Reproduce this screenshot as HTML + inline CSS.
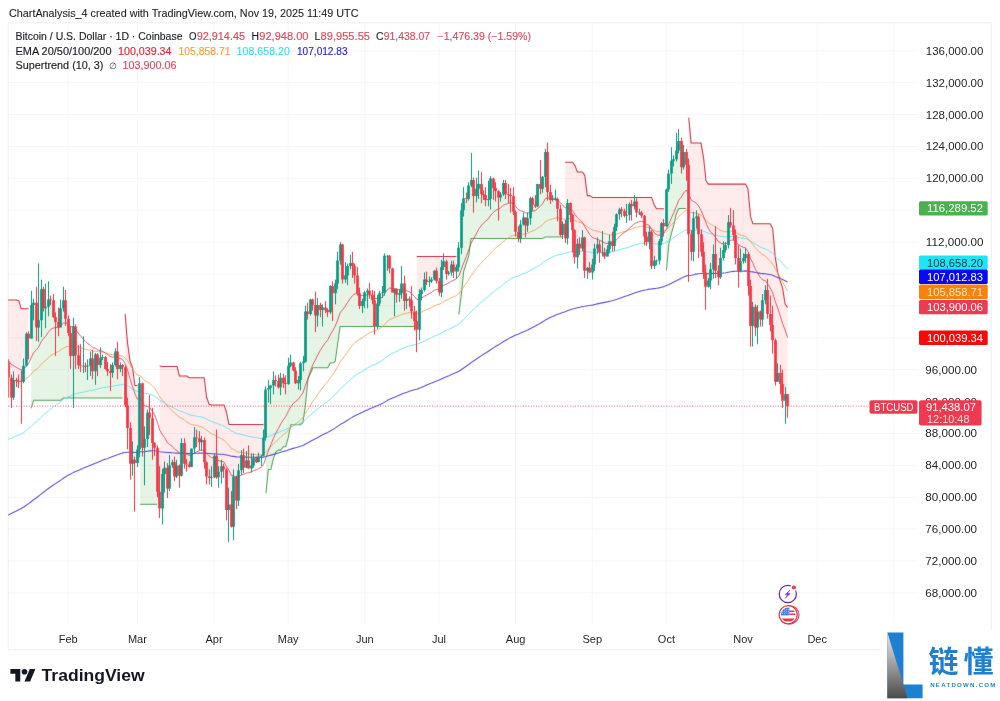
<!DOCTYPE html>
<html lang="en"><head><meta charset="utf-8"><title>BTCUSD chart</title>
<style>html,body{margin:0;padding:0;background:#fff}body{width:1000px;height:701px;overflow:hidden}svg{display:block}</style>
</head><body>
<svg width="1000" height="701" viewBox="0 0 1000 701" font-family='"Liberation Sans", Arial, sans-serif'>
<rect width="1000" height="701" fill="#fff"/>
<defs><clipPath id="pane"><rect x="8.2" y="22.8" width="910.3" height="602.2"/></clipPath>
<linearGradient id="lg" x1="0" y1="0" x2="0" y2="1"><stop offset="0" stop-color="#e4e4e4"/><stop offset="0.35" stop-color="#b5b5b5"/><stop offset="1" stop-color="#4a4a4a"/></linearGradient>
<filter id="bl" x="0" y="0" width="1" height="1" filterUnits="objectBoundingBox" color-interpolation-filters="sRGB"><feConvolveMatrix order="3" kernelMatrix="0.01 0.05 0.01 0.05 0.76 0.05 0.01 0.05 0.01" divisor="1" edgeMode="duplicate"/></filter>
</defs>
<path d="M68.2 22.8V625.0M137.4 22.8V625.0M214.0 22.8V625.0M288.2 22.8V625.0M364.8 22.8V625.0M439.0 22.8V625.0M515.6 22.8V625.0M592.3 22.8V625.0M666.4 22.8V625.0M743.1 22.8V625.0M817.2 22.8V625.0M893.8 22.8V625.0M8.2 50.8H918.5M8.2 82.7H918.5M8.2 114.6H918.5M8.2 146.5H918.5M8.2 178.4H918.5M8.2 210.2H918.5M8.2 242.1H918.5M8.2 274.0H918.5M8.2 305.9H918.5M8.2 337.8H918.5M8.2 369.7H918.5M8.2 401.6H918.5M8.2 433.5H918.5M8.2 465.4H918.5M8.2 497.3H918.5M8.2 529.1H918.5M8.2 561.0H918.5M8.2 592.9H918.5" stroke="#f6f6f8" stroke-width="1" fill="none"/>
<path d="M8.2 22.8H991.3V649.6H8.2Z" stroke="#edeef1" stroke-width="1" fill="none"/>
<g clip-path="url(#pane)"><g filter="url(#bl)"><rect x="0" y="0" width="1000" height="701" fill="none"/>
<polygon points="6.2,299.9 8.9,299.9 11.3,299.9 13.8,299.9 16.3,299.9 18.8,300.7 21.2,308.7 23.7,308.7 26.2,308.7 28.6,308.7 28.6,336.2 26.2,349.8 23.7,373.7 21.2,381.4 18.8,381.0 16.3,380.5 13.8,388.8 11.3,387.6 8.9,370.1 6.2,370.1" fill="rgba(242,54,69,0.10)"/>
<polyline points="6.2,299.9 8.9,299.9 11.3,299.9 13.8,299.9 16.3,299.9 18.8,300.7 21.2,308.7 23.7,308.7 26.2,308.7 28.6,308.7" fill="none" stroke="#cf2f42" stroke-width="1.05" stroke-linejoin="round"/>
<polygon points="31.1,408.4 33.6,400.3 36.1,400.3 38.5,400.3 41.0,400.3 43.5,400.3 46.0,400.3 48.4,400.3 50.9,400.3 53.4,400.3 55.8,400.3 58.3,400.3 60.8,400.3 63.3,397.9 65.7,397.9 68.2,397.9 70.7,397.9 73.1,397.9 75.6,397.9 78.1,397.9 80.6,397.9 83.0,397.9 85.5,397.9 88.0,397.9 90.4,397.9 92.9,397.9 95.4,397.9 97.9,397.9 100.3,397.9 102.8,397.9 105.3,397.9 107.8,397.9 110.2,397.9 112.7,397.9 115.2,397.9 117.6,397.9 120.1,397.9 122.6,397.9 122.6,366.1 120.1,366.9 117.6,360.1 115.2,358.1 112.7,368.9 110.2,372.1 107.8,370.1 105.3,362.9 102.8,357.3 100.3,361.3 97.9,359.7 95.4,362.9 92.9,364.9 90.4,362.1 88.0,366.1 85.5,366.1 83.0,365.7 80.6,365.3 78.1,360.1 75.6,341.0 73.1,341.4 70.7,344.6 68.2,325.9 65.7,309.5 63.3,304.3 60.8,317.9 58.3,324.7 55.8,319.5 53.4,308.7 50.9,299.9 48.4,303.1 46.0,307.5 43.5,298.7 41.0,304.7 38.5,323.9 36.1,315.1 33.6,303.9 31.1,321.9" fill="rgba(76,175,80,0.14)"/>
<polyline points="31.1,408.4 33.6,400.3 36.1,400.3 38.5,400.3 41.0,400.3 43.5,400.3 46.0,400.3 48.4,400.3 50.9,400.3 53.4,400.3 55.8,400.3 58.3,400.3 60.8,400.3 63.3,397.9 65.7,397.9 68.2,397.9 70.7,397.9 73.1,397.9 75.6,397.9 78.1,397.9 80.6,397.9 83.0,397.9 85.5,397.9 88.0,397.9 90.4,397.9 92.9,397.9 95.4,397.9 97.9,397.9 100.3,397.9 102.8,397.9 105.3,397.9 107.8,397.9 110.2,397.9 112.7,397.9 115.2,397.9 117.6,397.9 120.1,397.9 122.6,397.9" fill="none" stroke="#55a35a" stroke-width="1.05" stroke-linejoin="round"/>
<polygon points="125.1,314.0 127.5,342.8 130.0,361.1 132.5,367.4 134.9,385.5 137.4,385.5 137.4,456.2 134.9,461.4 132.5,461.8 130.0,445.8 127.5,416.7 125.1,386.4" fill="rgba(242,54,69,0.10)"/>
<polyline points="125.1,314.0 127.5,342.8 130.0,361.1 132.5,367.4 134.9,385.5 137.4,385.5" fill="none" stroke="#cf2f42" stroke-width="1.05" stroke-linejoin="round"/>
<polygon points="139.9,504.3 142.4,504.3 144.8,504.3 147.3,504.3 149.8,504.3 152.2,504.3 154.7,504.3 157.2,504.3 157.2,469.8 154.7,445.4 152.2,430.7 149.8,415.5 147.3,425.9 144.8,443.4 142.4,415.5 139.9,416.3" fill="rgba(76,175,80,0.14)"/>
<polyline points="139.9,504.3 142.4,504.3 144.8,504.3 147.3,504.3 149.8,504.3 152.2,504.3 154.7,504.3 157.2,504.3" fill="none" stroke="#55a35a" stroke-width="1.05" stroke-linejoin="round"/>
<polygon points="159.7,366.1 162.1,366.4 164.6,366.4 167.1,366.4 169.6,366.4 172.0,366.4 174.5,366.4 177.0,366.4 179.4,376.0 181.9,376.0 184.4,376.0 186.9,376.0 189.3,377.8 191.8,377.8 194.3,377.8 196.7,377.8 199.2,377.8 201.7,377.8 204.2,377.8 206.6,397.2 209.1,404.2 211.6,404.9 214.0,404.9 216.5,404.9 219.0,404.9 221.5,404.9 223.9,404.9 226.4,411.7 228.9,424.4 231.4,424.4 233.8,424.4 236.3,424.4 238.8,424.4 241.2,424.4 243.7,424.4 246.2,424.4 248.7,424.4 251.1,424.4 253.6,424.4 256.1,424.4 258.5,424.4 261.0,424.4 263.5,424.4 263.5,446.6 261.0,456.2 258.5,459.4 256.1,460.2 253.6,461.8 251.1,467.0 248.7,464.6 246.2,464.2 243.7,461.4 241.2,462.6 238.8,485.3 236.3,488.5 233.8,501.6 231.4,515.6 228.9,507.2 226.4,489.7 223.9,467.8 221.5,469.0 219.0,474.5 216.5,466.6 214.0,466.6 211.6,477.7 209.1,477.3 206.6,469.4 204.2,451.0 201.7,441.1 199.2,440.3 196.7,437.9 194.3,443.0 191.8,457.8 189.3,465.8 186.9,464.2 184.4,453.4 181.9,459.4 179.4,470.6 177.0,471.0 174.5,469.4 172.0,463.8 169.6,476.9 167.1,478.1 164.6,471.0 162.1,491.3 159.7,500.1" fill="rgba(242,54,69,0.10)"/>
<polyline points="159.7,366.1 162.1,366.4 164.6,366.4 167.1,366.4 169.6,366.4 172.0,366.4 174.5,366.4 177.0,366.4 179.4,376.0 181.9,376.0 184.4,376.0 186.9,376.0 189.3,377.8 191.8,377.8 194.3,377.8 196.7,377.8 199.2,377.8 201.7,377.8 204.2,377.8 206.6,397.2 209.1,404.2 211.6,404.9 214.0,404.9 216.5,404.9 219.0,404.9 221.5,404.9 223.9,404.9 226.4,411.7 228.9,424.4 231.4,424.4 233.8,424.4 236.3,424.4 238.8,424.4 241.2,424.4 243.7,424.4 246.2,424.4 248.7,424.4 251.1,424.4 253.6,424.4 256.1,424.4 258.5,424.4 261.0,424.4 263.5,424.4" fill="none" stroke="#cf2f42" stroke-width="1.05" stroke-linejoin="round"/>
<polygon points="266.0,493.1 268.4,469.5 270.9,469.5 273.4,458.4 275.8,452.2 278.3,450.1 280.8,450.1 283.3,446.7 285.7,446.7 288.2,437.9 290.7,424.7 293.2,424.7 295.6,424.7 298.1,424.7 300.6,424.7 303.0,422.5 305.5,404.1 308.0,379.0 310.5,373.3 312.9,367.8 315.4,367.8 317.9,367.8 320.3,367.8 322.8,367.8 325.3,367.8 327.8,367.8 330.2,362.9 332.7,362.9 335.2,361.5 337.6,344.2 340.1,326.4 342.6,326.4 345.1,326.4 347.5,326.4 350.0,326.4 352.5,326.4 355.0,326.4 357.4,326.4 359.9,326.4 362.4,326.4 364.8,326.4 367.3,326.4 369.8,326.4 372.3,326.4 374.7,326.4 377.2,326.4 379.7,326.4 382.1,326.4 384.6,326.4 387.1,326.4 389.6,326.4 392.0,326.4 394.5,326.4 397.0,326.4 399.4,326.4 401.9,326.4 404.4,326.4 406.9,326.4 409.3,326.4 411.8,326.4 414.3,326.4 414.3,316.3 411.8,305.9 409.3,299.5 406.9,299.9 404.4,292.4 401.9,288.4 399.4,294.0 397.0,292.0 394.5,290.8 392.0,280.4 389.6,262.1 387.1,255.7 384.6,274.0 382.1,292.8 379.7,298.3 377.2,314.7 374.7,313.1 372.3,297.5 369.8,292.8 367.3,291.6 364.8,296.8 362.4,303.5 359.9,299.5 357.4,284.4 355.0,270.8 352.5,264.5 350.0,264.5 347.5,270.8 345.1,277.6 342.6,262.1 340.1,252.5 337.6,272.0 335.2,288.4 332.7,289.6 330.2,299.1 327.8,311.1 325.3,308.7 322.8,308.7 320.3,307.5 317.9,310.3 315.4,310.3 312.9,302.3 310.5,306.7 308.0,312.7 305.5,336.6 303.0,362.5 300.6,371.7 298.1,381.7 295.6,376.9 293.2,366.5 290.7,364.1 288.2,374.9 285.7,383.7 283.3,380.5 280.8,382.5 278.3,384.1 275.8,380.5 273.4,382.9 270.9,386.8 268.4,388.8 266.0,413.5" fill="rgba(76,175,80,0.14)"/>
<polyline points="266.0,493.1 268.4,469.5 270.9,469.5 273.4,458.4 275.8,452.2 278.3,450.1 280.8,450.1 283.3,446.7 285.7,446.7 288.2,437.9 290.7,424.7 293.2,424.7 295.6,424.7 298.1,424.7 300.6,424.7 303.0,422.5 305.5,404.1 308.0,379.0 310.5,373.3 312.9,367.8 315.4,367.8 317.9,367.8 320.3,367.8 322.8,367.8 325.3,367.8 327.8,367.8 330.2,362.9 332.7,362.9 335.2,361.5 337.6,344.2 340.1,326.4 342.6,326.4 345.1,326.4 347.5,326.4 350.0,326.4 352.5,326.4 355.0,326.4 357.4,326.4 359.9,326.4 362.4,326.4 364.8,326.4 367.3,326.4 369.8,326.4 372.3,326.4 374.7,326.4 377.2,326.4 379.7,326.4 382.1,326.4 384.6,326.4 387.1,326.4 389.6,326.4 392.0,326.4 394.5,326.4 397.0,326.4 399.4,326.4 401.9,326.4 404.4,326.4 406.9,326.4 409.3,326.4 411.8,326.4 414.3,326.4" fill="none" stroke="#55a35a" stroke-width="1.05" stroke-linejoin="round"/>
<polygon points="416.8,256.5 419.2,256.5 421.7,256.5 424.2,256.5 426.6,256.5 429.1,256.5 431.6,256.5 434.1,256.5 436.5,256.5 439.0,256.5 441.5,256.5 443.9,256.5 446.4,256.5 448.9,256.5 451.4,256.5 453.8,256.5 456.3,256.5 456.3,269.2 453.8,268.1 451.4,268.4 448.9,273.2 446.4,267.7 443.9,264.1 441.5,279.6 439.0,286.8 436.5,276.0 434.1,275.2 431.6,280.4 429.1,281.6 426.6,280.8 424.2,284.8 421.7,292.0 419.2,311.9 416.8,325.5" fill="rgba(242,54,69,0.10)"/>
<polyline points="416.8,256.5 419.2,256.5 421.7,256.5 424.2,256.5 426.6,256.5 429.1,256.5 431.6,256.5 434.1,256.5 436.5,256.5 439.0,256.5 441.5,256.5 443.9,256.5 446.4,256.5 448.9,256.5 451.4,256.5 453.8,256.5 456.3,256.5" fill="none" stroke="#cf2f42" stroke-width="1.05" stroke-linejoin="round"/>
<polygon points="458.8,314.8 461.2,296.0 463.7,271.4 466.2,263.6 468.7,256.1 471.1,238.4 473.6,238.4 476.1,238.4 478.6,238.4 481.0,238.4 483.5,238.4 486.0,238.4 488.4,238.4 490.9,238.4 493.4,238.4 495.9,238.4 498.3,238.4 500.8,238.4 503.3,238.4 505.7,238.4 508.2,238.4 510.7,238.4 513.2,238.4 515.6,238.4 518.1,238.4 520.6,238.4 523.0,238.4 525.5,238.4 528.0,238.4 530.5,238.4 532.9,238.4 535.4,238.4 537.9,238.4 540.4,238.4 542.8,238.4 545.3,237.0 547.8,237.0 550.2,237.0 552.7,237.0 555.2,237.0 557.7,237.0 560.1,237.0 562.6,237.0 562.6,229.4 560.1,221.8 557.7,203.9 555.2,199.1 552.7,199.5 550.2,195.9 547.8,172.0 545.3,164.4 542.8,182.7 540.4,186.3 537.9,195.1 535.4,205.5 532.9,201.5 530.5,208.3 528.0,221.8 525.5,221.4 523.0,221.0 520.6,231.4 518.1,235.0 515.6,221.8 513.2,203.9 510.7,195.5 508.2,194.7 505.7,188.7 503.3,188.7 500.8,195.9 498.3,194.3 495.9,189.5 493.4,183.1 490.9,188.7 488.4,199.5 486.0,197.5 483.5,194.7 481.0,189.1 478.6,186.3 476.1,192.3 473.6,187.9 471.1,182.7 468.7,192.3 466.2,198.7 463.7,204.3 461.2,229.0 458.8,257.3" fill="rgba(76,175,80,0.14)"/>
<polyline points="458.8,314.8 461.2,296.0 463.7,271.4 466.2,263.6 468.7,256.1 471.1,238.4 473.6,238.4 476.1,238.4 478.6,238.4 481.0,238.4 483.5,238.4 486.0,238.4 488.4,238.4 490.9,238.4 493.4,238.4 495.9,238.4 498.3,238.4 500.8,238.4 503.3,238.4 505.7,238.4 508.2,238.4 510.7,238.4 513.2,238.4 515.6,238.4 518.1,238.4 520.6,238.4 523.0,238.4 525.5,238.4 528.0,238.4 530.5,238.4 532.9,238.4 535.4,238.4 537.9,238.4 540.4,238.4 542.8,238.4 545.3,237.0 547.8,237.0 550.2,237.0 552.7,237.0 555.2,237.0 557.7,237.0 560.1,237.0 562.6,237.0" fill="none" stroke="#55a35a" stroke-width="1.05" stroke-linejoin="round"/>
<polygon points="565.1,162.3 567.5,162.3 570.0,162.3 572.5,162.3 575.0,165.6 577.4,172.0 579.9,172.0 582.4,172.0 584.8,175.4 587.3,195.6 589.8,195.6 592.3,197.4 594.7,197.4 597.2,197.4 599.7,197.4 602.2,197.4 604.6,197.4 607.1,197.4 609.6,197.4 612.0,197.4 614.5,197.4 617.0,197.4 619.5,197.4 621.9,197.4 624.4,197.4 626.9,197.4 629.3,197.4 631.8,197.4 634.3,197.4 636.8,197.4 639.2,197.4 641.7,197.4 644.2,197.4 646.6,197.4 649.1,197.4 651.6,197.4 654.1,204.7 656.5,208.8 659.0,208.8 661.5,208.8 664.0,208.8 664.0,224.6 661.5,232.2 659.0,250.9 656.5,260.5 654.1,263.3 651.6,248.9 649.1,237.0 646.6,239.3 644.2,226.2 641.7,214.2 639.2,212.6 636.8,207.1 634.3,203.9 631.8,205.1 629.3,209.5 626.9,215.4 624.4,213.4 621.9,210.2 619.5,211.8 617.0,220.6 614.5,236.6 612.0,243.7 609.6,245.3 607.1,252.9 604.6,254.5 602.2,252.5 599.7,248.5 597.2,246.5 594.7,256.5 592.3,268.4 589.8,270.0 587.3,269.2 584.8,254.1 582.4,242.9 579.9,246.1 577.4,250.5 575.0,243.7 572.5,222.6 570.0,209.1 567.5,220.6 565.1,231.0" fill="rgba(242,54,69,0.10)"/>
<polyline points="565.1,162.3 567.5,162.3 570.0,162.3 572.5,162.3 575.0,165.6 577.4,172.0 579.9,172.0 582.4,172.0 584.8,175.4 587.3,195.6 589.8,195.6 592.3,197.4 594.7,197.4 597.2,197.4 599.7,197.4 602.2,197.4 604.6,197.4 607.1,197.4 609.6,197.4 612.0,197.4 614.5,197.4 617.0,197.4 619.5,197.4 621.9,197.4 624.4,197.4 626.9,197.4 629.3,197.4 631.8,197.4 634.3,197.4 636.8,197.4 639.2,197.4 641.7,197.4 644.2,197.4 646.6,197.4 649.1,197.4 651.6,197.4 654.1,204.7 656.5,208.8 659.0,208.8 661.5,208.8 664.0,208.8" fill="none" stroke="#cf2f42" stroke-width="1.05" stroke-linejoin="round"/>
<polygon points="666.4,270.5 668.9,243.8 671.4,233.3 673.8,225.1 676.3,213.8 678.8,208.5 681.3,208.5 683.7,208.5 686.2,208.5 686.2,158.4 683.7,159.6 681.3,154.0 678.8,145.7 676.3,154.8 673.8,160.0 671.4,167.2 668.9,181.5 666.4,207.9" fill="rgba(76,175,80,0.14)"/>
<polyline points="666.4,270.5 668.9,243.8 671.4,233.3 673.8,225.1 676.3,213.8 678.8,208.5 681.3,208.5 683.7,208.5 686.2,208.5" fill="none" stroke="#55a35a" stroke-width="1.05" stroke-linejoin="round"/>
<polygon points="688.7,117.7 691.1,142.9 693.6,142.9 696.1,142.9 698.6,142.9 701.0,142.9 703.5,157.3 706.0,180.7 708.4,184.1 710.9,184.1 713.4,184.1 715.9,184.1 718.3,184.1 720.8,184.1 723.3,184.1 725.8,184.1 728.2,184.1 730.7,184.1 733.2,184.1 735.6,184.1 738.1,184.1 740.6,184.1 743.1,184.1 745.5,184.1 748.0,188.9 750.5,216.4 752.9,223.8 755.4,223.8 757.9,223.8 760.4,223.8 762.8,223.8 765.3,223.8 767.8,223.8 770.2,223.8 772.7,228.6 775.2,256.9 777.7,272.3 780.1,280.7 782.6,288.2 785.1,304.0 787.6,307.4 787.6,400.2 785.1,397.5 782.6,392.4 780.1,378.5 777.7,377.3 775.2,360.9 772.7,332.6 770.2,319.5 767.8,301.9 765.3,295.2 762.8,309.9 760.4,315.5 757.9,319.5 755.4,317.1 752.9,316.3 750.5,305.9 748.0,270.0 745.5,256.1 743.1,259.7 740.6,266.5 738.1,264.9 735.6,246.5 733.2,230.2 730.7,223.8 728.2,233.8 725.8,247.7 723.3,254.1 720.8,267.7 718.3,274.0 715.9,262.5 713.4,261.7 710.9,274.8 708.4,283.6 706.0,279.6 703.5,262.1 701.0,242.9 698.6,225.4 696.1,217.4 693.6,235.0 691.1,242.9 688.7,199.5" fill="rgba(242,54,69,0.10)"/>
<polyline points="688.7,117.7 691.1,142.9 693.6,142.9 696.1,142.9 698.6,142.9 701.0,142.9 703.5,157.3 706.0,180.7 708.4,184.1 710.9,184.1 713.4,184.1 715.9,184.1 718.3,184.1 720.8,184.1 723.3,184.1 725.8,184.1 728.2,184.1 730.7,184.1 733.2,184.1 735.6,184.1 738.1,184.1 740.6,184.1 743.1,184.1 745.5,184.1 748.0,188.9 750.5,216.4 752.9,223.8 755.4,223.8 757.9,223.8 760.4,223.8 762.8,223.8 765.3,223.8 767.8,223.8 770.2,223.8 772.7,228.6 775.2,256.9 777.7,272.3 780.1,280.7 782.6,288.2 785.1,304.0 787.6,307.4" fill="none" stroke="#cf2f42" stroke-width="1.05" stroke-linejoin="round"/>
<polyline points="6.2,516.0 8.9,514.8 11.3,513.6 13.8,512.3 16.3,511.0 18.8,509.7 21.2,508.4 23.7,507.0 26.2,505.3 28.6,503.6 31.1,501.7 33.6,499.7 36.1,498.0 38.5,496.2 41.0,494.1 43.5,492.3 46.0,490.4 48.4,488.5 50.9,486.7 53.4,485.0 55.8,483.4 58.3,481.8 60.8,480.1 63.3,478.3 65.7,476.7 68.2,475.3 70.7,474.1 73.1,472.6 75.6,471.5 78.1,470.4 80.6,469.4 83.0,468.3 85.5,467.3 88.0,466.3 90.4,465.2 92.9,464.3 95.4,463.2 97.9,462.2 100.3,461.2 102.8,460.1 105.3,459.2 107.8,458.4 110.2,457.5 112.7,456.6 115.2,455.5 117.6,454.7 120.1,453.8 122.6,452.9 125.1,452.5 127.5,452.2 130.0,452.3 132.5,452.4 134.9,452.5 137.4,452.5 139.9,451.8 142.4,451.7 144.8,451.6 147.3,451.2 149.8,450.9 152.2,450.8 154.7,450.8 157.2,451.2 159.7,451.8 162.1,452.0 164.6,452.2 167.1,452.5 169.6,452.6 172.0,452.7 174.5,453.0 177.0,453.1 179.4,453.3 181.9,453.2 184.4,453.3 186.9,453.4 189.3,453.6 191.8,453.5 194.3,453.4 196.7,453.2 199.2,453.1 201.7,453.0 204.2,453.1 206.6,453.3 209.1,453.5 211.6,453.8 214.0,453.8 216.5,454.0 219.0,454.2 221.5,454.3 223.9,454.5 226.4,455.0 228.9,455.5 231.4,456.2 233.8,456.4 236.3,456.9 238.8,457.0 241.2,457.0 243.7,457.1 246.2,457.1 248.7,457.2 251.1,457.3 253.6,457.3 256.1,457.4 258.5,457.4 261.0,457.4 263.5,457.2 266.0,456.5 268.4,455.8 270.9,455.1 273.4,454.4 275.8,453.6 278.3,453.0 280.8,452.2 283.3,451.5 285.7,450.9 288.2,450.0 290.7,449.1 293.2,448.4 295.6,447.7 298.1,447.0 300.6,446.2 303.0,445.4 305.5,444.0 308.0,442.7 310.5,441.3 312.9,440.0 315.4,438.7 317.9,437.4 320.3,436.1 322.8,434.8 325.3,433.6 327.8,432.4 330.2,430.9 332.7,429.6 335.2,428.1 337.6,426.4 340.1,424.6 342.6,423.2 345.1,421.7 347.5,420.2 350.0,418.6 352.5,417.1 355.0,415.7 357.4,414.5 359.9,413.4 362.4,412.3 364.8,411.1 367.3,409.9 369.8,408.7 372.3,407.7 374.7,406.8 377.2,405.8 379.7,404.7 382.1,403.6 384.6,402.1 387.1,400.6 389.6,399.3 392.0,398.3 394.5,397.2 397.0,396.2 399.4,395.1 401.9,394.0 404.4,393.1 406.9,392.2 409.3,391.2 411.8,390.5 414.3,389.8 416.8,389.2 419.2,388.2 421.7,387.2 424.2,386.2 426.6,385.1 429.1,384.1 431.6,383.1 434.1,381.9 436.5,380.9 439.0,380.1 441.5,378.9 443.9,377.8 446.4,376.7 448.9,375.7 451.4,374.6 453.8,373.6 456.3,372.5 458.8,371.3 461.2,369.7 463.7,368.0 466.2,366.3 468.7,364.5 471.1,362.6 473.6,361.0 476.1,359.3 478.6,357.5 481.0,355.9 483.5,354.3 486.0,352.8 488.4,351.2 490.9,349.5 493.4,347.9 495.9,346.3 498.3,344.9 500.8,343.4 503.3,341.8 505.7,340.3 508.2,338.9 510.7,337.4 513.2,336.2 515.6,335.1 518.1,334.2 520.6,333.1 523.0,331.9 525.5,330.9 528.0,329.8 530.5,328.5 532.9,327.2 535.4,326.0 537.9,324.6 540.4,323.3 542.8,321.8 545.3,320.1 547.8,318.8 550.2,317.6 552.7,316.5 555.2,315.3 557.7,314.2 560.1,313.4 562.6,312.6 565.1,311.8 567.5,310.7 570.0,309.8 572.5,309.0 575.0,308.5 577.4,307.8 579.9,307.2 582.4,306.5 584.8,306.2 587.3,305.8 589.8,305.5 592.3,305.1 594.7,304.5 597.2,303.9 599.7,303.4 602.2,302.9 604.6,302.4 607.1,301.9 609.6,301.3 612.0,300.7 614.5,300.0 617.0,299.2 619.5,298.3 621.9,297.4 624.4,296.6 626.9,295.8 629.3,294.9 631.8,294.0 634.3,293.1 636.8,292.3 639.2,291.5 641.7,290.7 644.2,290.2 646.6,289.7 649.1,289.1 651.6,288.9 654.1,288.6 656.5,288.3 659.0,287.9 661.5,287.2 664.0,286.6 666.4,285.6 668.9,284.5 671.4,283.3 673.8,282.1 676.3,280.8 678.8,279.4 681.3,278.2 683.7,277.0 686.2,275.9 688.7,275.5 691.1,275.2 693.6,274.7 696.1,274.1 698.6,273.7 701.0,273.5 703.5,273.5 706.0,273.6 708.4,273.7 710.9,273.6 713.4,273.4 715.9,273.4 718.3,273.4 720.8,273.3 723.3,273.0 725.8,272.8 728.2,272.3 730.7,271.8 733.2,271.4 735.6,271.3 738.1,271.3 740.6,271.2 743.1,271.1 745.5,270.9 748.0,271.1 750.5,271.6 752.9,271.9 755.4,272.5 757.9,272.9 760.4,273.4 762.8,273.6 765.3,273.8 767.8,274.2 770.2,274.7 772.7,275.3 775.2,276.4 777.7,277.4 780.1,278.4 782.6,279.6 785.1,280.8 787.6,282.0" fill="none" stroke="#3b34d6" stroke-width="1.1" stroke-linejoin="round" opacity="0.85"/>
<polyline points="6.2,439.9 8.9,439.1 11.3,438.2 13.8,437.1 16.3,436.0 18.8,434.9 21.2,433.8 23.7,432.5 26.2,430.5 28.6,428.7 31.1,426.3 33.6,423.8 36.1,421.9 38.5,419.9 41.0,417.3 43.5,415.2 46.0,413.0 48.4,410.8 50.9,408.6 53.4,406.8 55.8,405.1 58.3,403.5 60.8,401.7 63.3,399.6 65.7,398.0 68.2,396.8 70.7,396.0 73.1,394.6 75.6,393.8 78.1,393.2 80.6,392.7 83.0,392.2 85.5,391.6 88.0,391.1 90.4,390.5 92.9,390.1 95.4,389.4 97.9,388.9 100.3,388.3 102.8,387.7 105.3,387.3 107.8,387.0 110.2,386.7 112.7,386.3 115.2,385.6 117.6,385.3 120.1,384.9 122.6,384.5 125.1,384.9 127.5,385.8 130.0,387.3 132.5,388.8 134.9,390.2 137.4,391.4 139.9,391.2 142.4,392.4 144.8,393.3 147.3,393.7 149.8,394.2 152.2,395.1 154.7,396.2 157.2,398.1 159.7,400.2 162.1,401.7 164.6,403.0 167.1,404.7 169.6,405.9 172.0,407.0 174.5,408.4 177.0,409.5 179.4,410.8 181.9,411.5 184.4,412.5 186.9,413.5 189.3,414.6 191.8,415.3 194.3,415.7 196.7,416.2 199.2,416.7 201.7,417.1 204.2,418.0 206.6,419.2 209.1,420.4 211.6,421.5 214.0,422.2 216.5,423.3 219.0,424.2 221.5,425.0 223.9,425.9 226.4,427.6 228.9,429.1 231.4,431.0 233.8,431.9 236.3,433.3 238.8,434.0 241.2,434.4 243.7,435.1 246.2,435.6 248.7,436.3 251.1,436.8 253.6,437.3 256.1,437.8 258.5,438.1 261.0,438.5 263.5,438.5 266.0,437.5 268.4,436.5 270.9,435.5 273.4,434.4 275.8,433.3 278.3,432.4 280.8,431.3 283.3,430.4 285.7,429.5 288.2,428.2 290.7,426.9 293.2,425.8 295.6,425.0 298.1,424.1 300.6,422.9 303.0,421.7 305.5,419.5 308.0,417.4 310.5,415.0 312.9,412.9 315.4,410.9 317.9,408.8 320.3,406.9 322.8,404.9 325.3,403.0 327.8,401.2 330.2,399.0 332.7,396.9 335.2,394.6 337.6,392.0 340.1,389.0 342.6,386.9 345.1,384.7 347.5,382.3 350.0,380.0 352.5,377.7 355.0,375.7 357.4,374.1 359.9,372.7 362.4,371.3 364.8,369.7 367.3,368.2 369.8,366.7 372.3,365.4 374.7,364.6 377.2,363.4 379.7,362.0 382.1,360.6 384.6,358.6 387.1,356.5 389.6,354.8 392.0,353.5 394.5,352.3 397.0,351.1 399.4,350.0 401.9,348.7 404.4,347.7 406.9,346.7 409.3,345.8 411.8,345.1 414.3,344.7 416.8,344.4 419.2,343.4 421.7,342.3 424.2,341.1 426.6,339.9 429.1,338.7 431.6,337.6 434.1,336.3 436.5,335.2 439.0,334.3 441.5,333.0 443.9,331.6 446.4,330.4 448.9,329.3 451.4,328.0 453.8,326.9 456.3,325.7 458.8,324.1 461.2,321.9 463.7,319.4 466.2,317.1 468.7,314.5 471.1,311.8 473.6,309.5 476.1,307.1 478.6,304.7 481.0,302.5 483.5,300.4 486.0,298.4 488.4,296.4 490.9,294.1 493.4,292.0 495.9,290.0 498.3,288.1 500.8,286.3 503.3,284.2 505.7,282.4 508.2,280.7 510.7,279.0 513.2,277.7 515.6,276.8 518.1,276.0 520.6,275.0 523.0,273.9 525.5,272.9 528.0,271.8 530.5,270.4 532.9,269.1 535.4,267.8 537.9,266.2 540.4,264.6 542.8,262.9 545.3,260.7 547.8,259.3 550.2,258.2 552.7,257.0 555.2,255.8 557.7,254.9 560.1,254.5 562.6,253.9 565.1,253.6 567.5,252.6 570.0,251.9 572.5,251.4 575.0,251.5 577.4,251.4 579.9,251.3 582.4,251.1 584.8,251.4 587.3,251.8 589.8,252.2 592.3,252.4 594.7,252.3 597.2,252.2 599.7,252.2 602.2,252.2 604.6,252.3 607.1,252.2 609.6,252.0 612.0,251.9 614.5,251.4 617.0,250.7 619.5,249.8 621.9,249.1 624.4,248.4 626.9,247.8 629.3,246.9 631.8,246.1 634.3,245.2 636.8,244.6 639.2,243.9 641.7,243.4 644.2,243.2 646.6,243.2 649.1,243.0 651.6,243.4 654.1,243.8 656.5,244.1 659.0,244.1 661.5,243.6 664.0,243.3 666.4,242.2 668.9,240.9 671.4,239.3 673.8,237.7 676.3,236.0 678.8,234.1 681.3,232.8 683.7,231.2 686.2,229.9 688.7,229.9 691.1,230.4 693.6,230.1 696.1,229.9 698.6,229.9 701.0,230.4 703.5,231.2 706.0,232.3 708.4,233.3 710.9,234.0 713.4,234.4 715.9,235.1 718.3,235.9 720.8,236.4 723.3,236.6 725.8,236.8 728.2,236.5 730.7,236.3 733.2,236.3 735.6,236.7 738.1,237.4 740.6,237.9 743.1,238.3 745.5,238.6 748.0,239.5 750.5,241.2 752.9,242.5 755.4,244.2 757.9,245.5 760.4,247.0 762.8,248.1 765.3,248.9 767.8,250.2 770.2,251.7 772.7,253.4 775.2,256.0 777.7,258.3 780.1,260.8 782.6,263.5 785.1,266.1 787.6,268.9" fill="none" stroke="#5fe1ee" stroke-width="1.0" stroke-linejoin="round" opacity="0.85"/>
<polyline points="6.2,379.4 8.9,380.1 11.3,380.8 13.8,380.7 16.3,380.7 18.8,380.7 21.2,380.8 23.7,380.2 26.2,378.4 28.6,376.8 31.1,374.0 33.6,371.2 36.1,369.5 38.5,367.6 41.0,364.5 43.5,362.3 46.0,360.1 48.4,357.7 50.9,355.5 53.4,354.0 55.8,352.7 58.3,351.7 60.8,350.0 63.3,348.1 65.7,346.9 68.2,346.4 70.7,346.8 73.1,346.0 75.6,346.3 78.1,347.1 80.6,347.8 83.0,348.5 85.5,349.2 88.0,349.9 90.4,350.2 92.9,351.0 95.4,351.2 97.9,351.7 100.3,351.9 102.8,352.1 105.3,352.8 107.8,353.5 110.2,354.3 112.7,354.7 115.2,354.6 117.6,355.1 120.1,355.5 122.6,356.0 125.1,357.9 127.5,360.7 130.0,364.7 132.5,368.4 134.9,372.1 137.4,375.2 139.9,375.5 142.4,378.3 144.8,380.7 147.3,382.0 149.8,383.4 152.2,385.7 154.7,388.2 157.2,392.2 159.7,396.8 162.1,399.8 164.6,402.5 167.1,405.9 169.6,408.2 172.0,410.3 174.5,412.9 177.0,415.0 179.4,417.3 181.9,418.4 184.4,420.1 186.9,421.9 189.3,423.6 191.8,424.6 194.3,425.1 196.7,425.6 199.2,426.3 201.7,426.8 204.2,428.2 206.6,430.1 209.1,432.0 211.6,433.8 214.0,434.6 216.5,436.3 219.0,437.7 221.5,438.8 223.9,440.0 226.4,442.8 228.9,445.2 231.4,448.4 233.8,449.5 236.3,451.5 238.8,452.2 241.2,452.3 243.7,452.9 246.2,453.2 248.7,453.8 251.1,454.3 253.6,454.4 256.1,454.7 258.5,454.8 261.0,454.8 263.5,454.2 266.0,451.6 268.4,449.1 270.9,446.7 273.4,444.0 275.8,441.6 278.3,439.4 280.8,437.0 283.3,434.9 285.7,432.9 288.2,430.3 290.7,427.6 293.2,425.4 295.6,423.7 298.1,422.0 300.6,419.7 303.0,417.4 305.5,413.3 308.0,409.4 310.5,405.1 312.9,401.2 315.4,397.8 317.9,394.2 320.3,390.9 322.8,387.6 325.3,384.5 327.8,381.7 330.2,378.0 332.7,374.6 335.2,371.1 337.6,366.7 340.1,361.9 342.6,358.7 345.1,355.4 347.5,351.9 350.0,348.4 352.5,345.2 355.0,342.5 357.4,340.6 359.9,339.2 362.4,337.7 364.8,335.9 367.3,334.2 369.8,332.6 372.3,331.3 374.7,331.1 377.2,330.0 379.7,328.6 382.1,327.2 384.6,324.4 387.1,321.7 389.6,319.6 392.0,318.5 394.5,317.4 397.0,316.5 399.4,315.6 401.9,314.3 404.4,313.8 406.9,313.2 409.3,312.7 411.8,312.7 414.3,313.0 416.8,313.7 419.2,312.9 421.7,312.0 424.2,310.7 426.6,309.6 429.1,308.5 431.6,307.3 434.1,305.9 436.5,304.9 439.0,304.4 441.5,303.0 443.9,301.3 446.4,300.3 448.9,299.2 451.4,297.8 453.8,296.8 456.3,295.6 458.8,293.7 461.2,290.5 463.7,286.8 466.2,283.4 468.7,279.6 471.1,275.7 473.6,272.5 476.1,269.2 478.6,265.9 481.0,263.1 483.5,260.4 486.0,258.1 488.4,255.7 490.9,252.7 493.4,250.2 495.9,247.9 498.3,245.9 500.8,243.9 503.3,241.5 505.7,239.6 508.2,237.9 510.7,236.2 513.2,235.3 515.6,235.1 518.1,235.3 520.6,234.8 523.0,234.2 525.5,233.8 528.0,233.2 530.5,231.8 532.9,230.8 535.4,229.8 537.9,228.0 540.4,226.5 542.8,224.5 545.3,221.7 547.8,220.5 550.2,219.7 552.7,218.9 555.2,218.1 557.7,217.7 560.1,218.4 562.6,218.6 565.1,219.4 567.5,218.8 570.0,218.6 572.5,219.1 575.0,220.6 577.4,221.5 579.9,222.5 582.4,223.1 584.8,225.0 587.3,226.7 589.8,228.5 592.3,229.9 594.7,230.6 597.2,231.1 599.7,232.0 602.2,232.8 604.6,233.7 607.1,234.3 609.6,234.6 612.0,235.1 614.5,234.7 617.0,233.9 619.5,233.0 621.9,232.1 624.4,231.5 626.9,230.8 629.3,229.8 631.8,228.9 634.3,227.8 636.8,227.2 639.2,226.6 641.7,226.2 644.2,226.6 646.6,227.2 649.1,227.4 651.6,228.9 654.1,230.1 656.5,231.3 659.0,231.7 661.5,231.4 664.0,231.2 666.4,229.5 668.9,227.3 671.4,224.7 673.8,222.2 676.3,219.4 678.8,216.3 681.3,214.4 683.7,211.9 686.2,210.1 688.7,211.0 691.1,212.6 693.6,212.8 696.1,213.0 698.6,213.8 701.0,215.3 703.5,217.5 706.0,220.3 708.4,222.6 710.9,224.4 713.4,225.6 715.9,227.4 718.3,229.3 720.8,230.5 723.3,231.2 725.8,231.8 728.2,231.4 730.7,231.2 733.2,231.3 735.6,232.4 738.1,233.9 740.6,235.0 743.1,235.9 745.5,236.6 748.0,238.5 750.5,242.0 752.9,244.5 755.4,247.8 757.9,250.3 760.4,253.0 762.8,254.8 765.3,256.2 767.8,258.5 770.2,261.1 772.7,264.2 775.2,268.8 777.7,272.9 780.1,277.2 782.6,282.1 785.1,286.5 787.6,291.2" fill="none" stroke="#f09440" stroke-width="0.9" stroke-linejoin="round" opacity="0.85"/>
<polyline points="6.2,357.4 8.9,360.9 11.3,364.4 13.8,365.9 16.3,367.3 18.8,368.7 21.2,369.9 23.7,369.5 26.2,366.1 28.6,363.5 31.1,357.9 33.6,352.7 36.1,350.3 38.5,347.4 41.0,341.9 43.5,338.7 46.0,335.6 48.4,332.2 50.9,329.2 53.4,328.0 55.8,327.4 58.3,327.4 60.8,325.6 63.3,323.2 65.7,322.8 68.2,323.7 70.7,326.8 73.1,326.8 75.6,329.5 78.1,332.9 80.6,336.0 83.0,338.9 85.5,341.5 88.0,343.8 90.4,345.2 92.9,347.7 95.4,348.3 97.9,349.9 100.3,350.7 102.8,351.3 105.3,352.9 107.8,354.7 110.2,356.4 112.7,357.2 115.2,356.7 117.6,357.8 120.1,358.5 122.6,359.3 125.1,363.8 127.5,369.9 130.0,378.8 132.5,386.5 134.9,393.8 137.4,399.1 139.9,397.6 142.4,402.4 144.8,405.9 147.3,406.5 149.8,407.6 152.2,411.0 154.7,414.5 157.2,421.9 159.7,430.1 162.1,434.3 164.6,437.5 167.1,442.4 169.6,444.5 172.0,446.2 174.5,449.1 177.0,450.7 179.4,453.0 181.9,452.1 184.4,453.2 186.9,454.3 189.3,455.5 191.8,454.8 194.3,453.2 196.7,451.8 199.2,450.9 201.7,449.8 204.2,451.0 206.6,453.4 209.1,455.8 211.6,457.8 214.0,457.6 216.5,459.5 219.0,460.7 221.5,461.2 223.9,462.0 226.4,466.6 228.9,470.2 231.4,475.5 233.8,475.6 236.3,478.0 238.8,477.3 241.2,475.1 243.7,474.4 246.2,473.1 248.7,472.7 251.1,472.0 253.6,470.7 256.1,469.9 258.5,468.6 261.0,467.4 263.5,464.5 266.0,457.4 268.4,450.8 270.9,444.6 273.4,438.4 275.8,433.0 278.3,428.6 280.8,423.8 283.3,419.9 285.7,416.5 288.2,411.6 290.7,407.0 293.2,403.5 295.6,401.6 298.1,399.5 300.6,396.1 303.0,392.8 305.5,385.1 308.0,378.3 310.5,370.8 312.9,364.5 315.4,359.9 317.9,354.6 320.3,350.4 322.8,346.3 325.3,342.8 327.8,339.9 330.2,334.8 332.7,330.8 335.2,326.3 337.6,320.1 340.1,312.9 342.6,309.7 345.1,306.5 347.5,302.6 350.0,298.8 352.5,295.7 355.0,293.8 357.4,293.7 359.9,294.9 362.4,295.5 364.8,295.2 367.3,294.8 369.8,294.8 372.3,295.3 374.7,298.2 377.2,298.7 379.7,298.2 382.1,297.6 384.6,293.6 387.1,290.0 389.6,288.0 392.0,288.4 394.5,288.5 397.0,289.1 399.4,289.5 401.9,288.9 404.4,290.1 406.9,290.9 409.3,291.8 411.8,293.7 414.3,296.3 416.8,299.5 419.2,298.9 421.7,298.1 424.2,296.3 426.6,295.0 429.1,293.7 431.6,292.3 434.1,290.3 436.5,289.4 439.0,289.7 441.5,287.5 443.9,285.0 446.4,284.0 448.9,282.9 451.4,281.1 453.8,280.2 456.3,278.9 458.8,276.0 461.2,269.7 463.7,262.9 466.2,256.8 468.7,250.0 471.1,243.4 473.6,238.8 476.1,234.1 478.6,229.3 481.0,226.0 483.5,223.0 486.0,220.8 488.4,218.8 490.9,214.9 493.4,212.3 495.9,210.3 498.3,209.1 500.8,207.7 503.3,205.3 505.7,204.3 508.2,203.4 510.7,202.7 513.2,203.6 515.6,206.3 518.1,209.3 520.6,210.8 523.0,211.4 525.5,212.7 528.0,213.2 530.5,211.8 532.9,211.1 535.4,210.7 537.9,208.1 540.4,206.3 542.8,203.5 545.3,198.6 547.8,197.9 550.2,198.1 552.7,198.2 555.2,198.3 557.7,199.3 560.1,202.7 562.6,204.7 565.1,207.9 567.5,207.4 570.0,208.1 572.5,210.2 575.0,214.7 577.4,217.5 579.9,220.4 582.4,222.1 584.8,226.7 587.3,230.6 589.8,234.6 592.3,237.4 594.7,238.5 597.2,239.1 599.7,240.3 602.2,241.5 604.6,242.9 607.1,243.5 609.6,243.3 612.0,243.6 614.5,242.0 617.0,239.4 619.5,236.5 621.9,234.1 624.4,232.4 626.9,230.7 629.3,228.1 631.8,226.1 634.3,223.7 636.8,222.7 639.2,221.7 641.7,221.2 644.2,222.6 646.6,224.5 649.1,225.2 651.6,229.1 654.1,232.1 656.5,234.8 659.0,235.4 661.5,234.2 664.0,233.4 666.4,229.3 668.9,224.0 671.4,217.9 673.8,212.4 676.3,206.5 678.8,200.2 681.3,197.1 683.7,192.8 686.2,190.1 688.7,194.3 691.1,199.8 693.6,201.5 696.1,203.0 698.6,205.9 701.0,210.3 703.5,216.2 706.0,222.9 708.4,228.4 710.9,232.3 713.4,234.4 715.9,237.9 718.3,241.6 720.8,243.2 723.3,243.8 725.8,244.0 728.2,241.9 730.7,240.3 733.2,239.8 735.6,241.6 738.1,244.4 740.6,246.0 743.1,247.2 745.5,247.8 748.0,251.5 750.5,258.6 752.9,263.1 755.4,269.3 757.9,273.3 760.4,277.7 762.8,279.8 765.3,280.8 767.8,284.0 770.2,287.9 772.7,292.9 775.2,301.3 777.7,308.1 780.1,315.4 782.6,323.5 785.1,330.2 787.6,337.5" fill="none" stroke="#d93040" stroke-width="0.9" stroke-linejoin="round" opacity="0.85"/>
<path d="M13.50 371.3V400.0M23.50 358.5V383.3M26.50 332.2V366.5M31.50 290.8V338.6M33.50 298.7V320.3M38.50 263.3V341.8M41.50 279.6V337.0M45.50 283.6V328.2M48.50 281.2V316.3M60.50 299.5V327.4M63.50 286.8V311.5M73.50 317.9V408.0M83.50 336.2V372.9M87.50 359.3V380.1M90.50 351.4V376.1M95.50 353.0V384.8M100.50 347.4V368.1M102.50 354.6V360.1M112.50 362.5V377.7M115.50 348.2V366.5M120.50 362.5V372.1M132.50 441.5V475.7M137.50 445.4V467.0M139.50 376.9V457.4M144.50 426.3V485.3M147.50 409.6V447.0M162.50 468.6V524.4M164.50 461.4V492.5M169.50 455.0V490.9M172.50 459.8V467.8M176.50 459.8V478.1M181.50 438.3V476.5M191.50 448.6V467.0M194.50 427.1V453.4M201.50 435.9V451.0M211.50 466.2V486.9M214.50 453.4V478.1M218.50 466.2V487.7M221.50 459.8V483.7M228.50 487.7V541.9M233.50 469.4V540.3M238.50 463.8V506.0M241.50 450.2V474.9M246.50 451.0V467.8M251.50 453.4V472.5M253.50 453.4V467.8M258.50 452.6V462.2M261.50 455.0V466.2M263.50 429.5V456.6M265.50 386.4V440.7M268.50 380.1V402.4M270.50 384.8V404.0M273.50 371.3V394.4M280.50 372.9V395.2M288.50 357.7V384.8M290.50 354.6V367.3M298.50 376.1V389.6M300.50 361.7V390.4M303.50 356.1V371.3M305.50 305.9V362.5M310.50 298.7V315.5M317.50 297.9V326.6M322.50 304.3V326.6M330.50 285.2V313.9M335.50 279.6V304.3M337.50 251.7V289.2M340.50 242.1V264.5M345.50 262.1V282.8M347.50 263.7V285.2M350.50 254.9V269.2M362.50 298.7V313.1M364.50 290.8V308.3M367.50 288.4V308.3M377.50 294.8V329.0M379.50 290.8V305.9M382.50 286.0V297.9M384.50 253.3V295.6M387.50 254.9V270.8M394.50 288.4V316.3M399.50 289.2V301.9M401.50 266.1V298.7M406.50 293.2V309.1M419.50 289.2V340.2M421.50 287.6V300.3M424.50 272.4V291.6M429.50 276.4V286.8M431.50 277.2V282.8M434.50 270.0V280.4M441.50 259.7V297.2M443.50 253.3V270.0M448.50 270.8V275.6M451.50 260.5V275.6M456.50 264.5V278.8M458.50 242.1V271.6M461.50 203.1V254.1M463.50 187.1V216.6M468.50 182.3V200.7M471.50 152.8V187.1M476.50 177.6V202.3M478.50 170.4V199.1M488.50 180.8V206.3M490.50 176.0V209.5M500.50 191.9V201.5M503.50 180.0V195.9M520.50 219.8V242.9M523.50 212.6V225.4M527.50 212.6V231.8M530.50 196.7V224.6M537.50 183.9V207.1M542.50 176.0V192.7M545.50 148.9V187.1M552.50 195.1V201.5M555.50 189.5V200.7M562.50 221.4V239.0M567.50 199.1V244.5M577.50 239.0V268.4M582.50 230.2V250.9M587.50 266.9V278.8M592.50 258.9V279.6M594.50 243.7V270.8M597.50 237.4V254.1M602.50 231.0V256.5M607.50 245.3V256.5M609.50 235.0V253.3M614.50 223.8V250.9M616.50 213.4V231.0M619.50 207.9V219.8M626.50 203.9V223.0M629.50 202.3V220.6M634.50 195.1V209.5M639.50 208.7V215.0M649.50 226.2V249.3M654.50 255.7V269.2M656.50 259.7V265.3M659.50 239.0V264.5M661.50 222.2V245.3M666.50 188.7V227.0M668.50 169.6V191.9M671.50 147.3V183.9M673.50 155.2V166.4M676.50 132.9V161.6M678.50 128.9V153.6M683.50 144.9V169.6M693.50 211.8V261.3M696.50 210.2V228.6M708.50 278.0V287.6M710.50 262.9V289.2M713.50 244.5V278.8M720.50 247.7V278.8M723.50 241.3V260.5M725.50 242.1V252.5M728.50 215.0V248.5M740.50 248.5V272.4M743.50 253.3V263.7M745.50 248.5V262.9M752.50 301.9V346.6M757.50 305.1V344.2M762.50 294.0V326.6M765.50 285.2V304.3M777.50 363.3V381.7M785.50 387.2V423.9" stroke="#089981" stroke-width="1" fill="none"/>
<path d="M8.50 359.3V397.6M11.50 374.5V408.0M16.50 377.7V387.2M18.50 374.5V388.0M21.50 370.5V423.9M28.50 331.4V359.3M36.50 286.8V341.0M43.50 286.8V311.5M50.50 295.6V305.1M53.50 294.0V317.9M55.50 312.3V356.1M58.50 307.5V336.2M65.50 290.0V325.9M68.50 315.5V336.2M70.50 326.6V368.9M75.50 324.3V368.9M78.50 345.0V368.9M80.50 344.2V372.1M85.50 362.5V372.1M92.50 349.8V379.3M97.50 353.0V376.1M105.50 356.1V369.7M107.50 361.7V376.1M110.50 364.1V391.2M117.50 341.8V379.3M122.50 364.1V376.1M125.50 365.7V407.2M127.50 397.6V449.4M130.50 422.3V479.7M134.50 456.6V511.6M142.50 382.5V456.6M149.50 395.2V435.1M152.50 408.0V459.8M154.50 442.2V455.8M157.50 445.4V497.3M159.50 466.2V518.0M167.50 463.0V498.1M174.50 456.6V481.3M179.50 464.6V487.7M184.50 438.3V468.6M186.50 459.0V471.7M189.50 461.4V467.8M196.50 429.5V447.0M199.50 431.1V450.2M204.50 437.5V468.6M206.50 461.4V484.5M209.50 469.4V484.5M216.50 429.5V478.9M223.50 463.8V478.1M226.50 467.8V520.4M231.50 490.9V527.6M236.50 475.7V509.2M243.50 448.6V473.3M248.50 445.4V468.6M256.50 456.6V463.0M275.50 375.3V386.4M278.50 374.5V388.8M283.50 373.7V388.0M285.50 375.3V394.4M293.50 361.7V371.3M295.50 367.3V384.1M307.50 302.7V319.5M312.50 298.7V310.7M315.50 291.6V332.2M320.50 302.7V317.1M325.50 301.1V313.1M327.50 308.3V317.1M332.50 281.2V321.1M342.50 243.7V283.6M352.50 251.7V278.0M354.50 263.7V283.6M357.50 266.9V295.6M359.50 287.6V309.1M369.50 282.8V298.7M372.50 290.0V304.3M374.50 290.8V334.6M389.50 254.9V273.2M392.50 267.7V292.4M396.50 288.4V302.7M404.50 275.6V310.7M409.50 296.4V306.7M411.50 286.0V318.7M414.50 305.9V330.6M416.50 310.7V352.2M426.50 271.6V285.2M436.50 267.7V283.6M439.50 278.0V295.6M446.50 259.7V279.6M453.50 260.5V278.0M466.50 192.7V203.1M473.50 177.6V212.6M481.50 172.0V203.1M483.50 190.3V199.9M485.50 187.1V206.3M493.50 177.6V199.9M495.50 182.3V201.5M498.50 190.3V220.6M505.50 180.0V199.1M508.50 183.9V203.1M510.50 187.9V212.6M513.50 187.1V215.0M515.50 210.2V236.6M518.50 226.2V242.1M525.50 217.4V237.4M532.50 196.7V211.0M535.50 195.1V207.9M540.50 160.0V194.3M547.50 142.5V200.7M550.50 184.7V203.9M557.50 197.5V221.4M560.50 204.7V236.6M565.50 219.8V242.9M570.50 202.3V222.2M572.50 213.4V252.5M574.50 229.4V263.7M579.50 237.4V254.9M584.50 236.6V278.0M589.50 262.1V273.2M599.50 240.5V262.9M604.50 247.7V258.9M612.50 231.8V251.7M621.50 207.1V217.4M624.50 208.7V217.4M631.50 199.9V220.6M636.50 198.3V217.4M641.50 211.0V218.2M644.50 215.0V245.3M646.50 231.8V246.1M651.50 230.2V269.2M663.50 219.0V236.6M681.50 137.7V173.6M686.50 148.9V180.8M688.50 158.4V282.0M691.50 230.2V260.5M698.50 214.2V258.1M701.50 229.4V256.5M703.50 242.1V278.8M705.50 264.5V309.9M715.50 226.2V278.0M718.50 265.3V285.2M730.50 207.9V227.8M733.50 210.2V240.5M735.50 229.4V264.5M738.50 245.3V287.6M748.50 252.5V295.6M750.50 279.6V346.6M755.50 304.3V336.2M760.50 310.7V326.6M767.50 278.8V318.7M770.50 295.6V331.4M772.50 305.9V353.8M775.50 338.6V385.6M780.50 364.9V394.4M782.50 369.7V408.0M787.50 394.0V417.9" stroke="#f23645" stroke-width="1" fill="none"/>
<path d="M12.00 380.1h3.0V397.6h-3.0ZM22.00 365.7h3.0V381.7h-3.0ZM25.00 333.8h3.0V365.7h-3.0ZM30.00 305.1h3.0V338.6h-3.0ZM32.00 302.7h3.0V305.1h-3.0ZM37.00 320.3h3.0V327.4h-3.0ZM40.00 289.2h3.0V320.3h-3.0ZM44.00 306.7h3.0V308.3h-3.0ZM47.00 299.5h3.0V306.7h-3.0ZM59.00 308.3h3.0V327.4h-3.0ZM62.00 300.3h3.0V308.3h-3.0ZM72.00 326.6h3.0V356.1h-3.0ZM82.00 365.7h3.0V366.5h-3.0ZM86.00 365.7h3.0V366.5h-3.0ZM89.00 358.5h3.0V365.7h-3.0ZM94.00 354.6h3.0V371.3h-3.0ZM99.00 357.7h3.0V364.9h-3.0ZM101.00 356.9h3.0V357.7h-3.0ZM111.00 364.9h3.0V372.9h-3.0ZM114.00 351.4h3.0V364.9h-3.0ZM119.00 364.9h3.0V368.9h-3.0ZM131.00 459.8h3.0V463.8h-3.0ZM136.00 449.4h3.0V463.0h-3.0ZM138.00 383.3h3.0V449.4h-3.0ZM143.00 439.1h3.0V447.8h-3.0ZM146.00 412.8h3.0V439.1h-3.0ZM161.00 474.1h3.0V508.4h-3.0ZM163.00 467.8h3.0V474.1h-3.0ZM168.00 465.4h3.0V488.5h-3.0ZM171.00 462.2h3.0V465.4h-3.0ZM175.00 465.4h3.0V476.5h-3.0ZM180.00 443.0h3.0V475.7h-3.0ZM190.00 448.6h3.0V467.0h-3.0ZM193.00 437.5h3.0V448.6h-3.0ZM200.00 439.9h3.0V442.2h-3.0ZM210.00 477.3h3.0V478.1h-3.0ZM213.00 455.8h3.0V477.3h-3.0ZM217.00 471.7h3.0V477.3h-3.0ZM220.00 466.2h3.0V471.7h-3.0ZM227.00 504.4h3.0V510.0h-3.0ZM232.00 476.5h3.0V526.8h-3.0ZM237.00 470.2h3.0V500.4h-3.0ZM240.00 455.0h3.0V470.2h-3.0ZM245.00 460.6h3.0V467.8h-3.0ZM250.00 465.4h3.0V468.6h-3.0ZM252.00 458.2h3.0V465.4h-3.0ZM257.00 456.6h3.0V462.2h-3.0ZM260.00 455.8h3.0V456.6h-3.0ZM262.00 437.5h3.0V455.8h-3.0ZM264.00 389.6h3.0V437.5h-3.0ZM267.00 388.0h3.0V389.6h-3.0ZM269.00 385.6h3.0V388.0h-3.0ZM272.00 380.1h3.0V385.6h-3.0ZM279.00 377.7h3.0V387.2h-3.0ZM287.00 365.7h3.0V384.1h-3.0ZM289.00 362.5h3.0V365.7h-3.0ZM297.00 380.1h3.0V383.3h-3.0ZM299.00 363.3h3.0V380.1h-3.0ZM302.00 361.7h3.0V363.3h-3.0ZM304.00 311.5h3.0V361.7h-3.0ZM309.00 299.5h3.0V313.9h-3.0ZM316.00 305.1h3.0V315.5h-3.0ZM321.00 307.5h3.0V309.9h-3.0ZM329.00 286.0h3.0V312.3h-3.0ZM334.00 283.6h3.0V293.2h-3.0ZM336.00 260.5h3.0V283.6h-3.0ZM339.00 244.5h3.0V260.5h-3.0ZM344.00 275.6h3.0V279.6h-3.0ZM346.00 266.1h3.0V275.6h-3.0ZM349.00 262.9h3.0V266.1h-3.0ZM361.00 301.1h3.0V305.9h-3.0ZM363.00 292.4h3.0V301.1h-3.0ZM366.00 290.8h3.0V292.4h-3.0ZM376.00 303.5h3.0V325.9h-3.0ZM378.00 293.2h3.0V303.5h-3.0ZM381.00 292.4h3.0V293.2h-3.0ZM383.00 255.7h3.0V292.4h-3.0ZM386.00 255.7h3.0V256.5h-3.0ZM393.00 289.2h3.0V292.4h-3.0ZM398.00 293.2h3.0V294.8h-3.0ZM400.00 283.6h3.0V293.2h-3.0ZM405.00 298.7h3.0V301.1h-3.0ZM418.00 294.0h3.0V329.8h-3.0ZM420.00 290.0h3.0V294.0h-3.0ZM423.00 279.6h3.0V290.0h-3.0ZM428.00 281.2h3.0V282.0h-3.0ZM430.00 279.6h3.0V281.2h-3.0ZM433.00 270.8h3.0V279.6h-3.0ZM440.00 266.9h3.0V292.4h-3.0ZM442.00 261.3h3.0V266.9h-3.0ZM447.00 272.4h3.0V274.0h-3.0ZM450.00 264.5h3.0V272.4h-3.0ZM455.00 266.9h3.0V271.6h-3.0ZM457.00 247.7h3.0V266.9h-3.0ZM460.00 210.2h3.0V247.7h-3.0ZM462.00 198.3h3.0V210.2h-3.0ZM467.00 185.5h3.0V199.1h-3.0ZM470.00 180.0h3.0V185.5h-3.0ZM475.00 188.7h3.0V195.9h-3.0ZM477.00 183.9h3.0V188.7h-3.0ZM487.00 199.1h3.0V199.9h-3.0ZM489.00 178.4h3.0V199.1h-3.0ZM499.00 194.3h3.0V197.5h-3.0ZM502.00 183.1h3.0V194.3h-3.0ZM519.00 224.6h3.0V238.2h-3.0ZM522.00 217.4h3.0V224.6h-3.0ZM526.00 218.2h3.0V225.4h-3.0ZM529.00 198.3h3.0V218.2h-3.0ZM536.00 183.9h3.0V206.3h-3.0ZM541.00 176.8h3.0V188.7h-3.0ZM544.00 152.1h3.0V176.8h-3.0ZM551.00 199.1h3.0V199.9h-3.0ZM554.00 199.1h3.0V199.9h-3.0ZM561.00 223.8h3.0V235.0h-3.0ZM566.00 203.1h3.0V238.2h-3.0ZM576.00 243.7h3.0V257.3h-3.0ZM581.00 237.4h3.0V248.5h-3.0ZM586.00 267.7h3.0V270.8h-3.0ZM591.00 264.5h3.0V272.4h-3.0ZM593.00 248.5h3.0V264.5h-3.0ZM596.00 244.5h3.0V248.5h-3.0ZM601.00 252.5h3.0V253.3h-3.0ZM606.00 249.3h3.0V256.5h-3.0ZM608.00 241.3h3.0V249.3h-3.0ZM613.00 227.0h3.0V246.1h-3.0ZM615.00 214.2h3.0V227.0h-3.0ZM618.00 209.5h3.0V214.2h-3.0ZM625.00 215.0h3.0V215.8h-3.0ZM628.00 203.9h3.0V215.0h-3.0ZM633.00 201.5h3.0V206.3h-3.0ZM638.00 212.6h3.0V213.4h-3.0ZM648.00 231.8h3.0V242.1h-3.0ZM653.00 260.5h3.0V266.1h-3.0ZM655.00 260.5h3.0V261.3h-3.0ZM658.00 241.3h3.0V260.5h-3.0ZM660.00 223.0h3.0V241.3h-3.0ZM665.00 189.5h3.0V226.2h-3.0ZM667.00 173.6h3.0V189.5h-3.0ZM670.00 160.8h3.0V173.6h-3.0ZM672.00 159.2h3.0V160.8h-3.0ZM675.00 150.5h3.0V159.2h-3.0ZM677.00 140.9h3.0V150.5h-3.0ZM682.00 152.1h3.0V167.2h-3.0ZM692.00 218.2h3.0V251.7h-3.0ZM695.00 216.6h3.0V218.2h-3.0ZM707.00 280.4h3.0V286.8h-3.0ZM709.00 269.2h3.0V280.4h-3.0ZM712.00 254.1h3.0V269.2h-3.0ZM719.00 258.1h3.0V277.2h-3.0ZM722.00 250.1h3.0V258.1h-3.0ZM724.00 245.3h3.0V250.1h-3.0ZM727.00 222.2h3.0V245.3h-3.0ZM739.00 261.3h3.0V271.6h-3.0ZM742.00 258.1h3.0V261.3h-3.0ZM744.00 254.1h3.0V258.1h-3.0ZM751.00 306.7h3.0V325.9h-3.0ZM756.00 311.5h3.0V327.4h-3.0ZM761.00 300.3h3.0V319.5h-3.0ZM764.00 290.0h3.0V300.3h-3.0ZM776.00 372.9h3.0V381.7h-3.0ZM784.00 394.3h3.0V400.8h-3.0Z" fill="#089981" fill-opacity="0.86"/>
<path d="M7.00 362.5h3.0V377.7h-3.0ZM10.00 377.7h3.0V397.6h-3.0ZM15.00 380.1h3.0V380.9h-3.0ZM17.00 380.9h3.0V381.7h-3.0ZM20.00 381.2h3.0V382.0h-3.0ZM27.00 333.8h3.0V338.6h-3.0ZM35.00 302.7h3.0V327.4h-3.0ZM42.00 289.2h3.0V308.3h-3.0ZM49.00 299.5h3.0V300.3h-3.0ZM52.00 300.3h3.0V317.1h-3.0ZM54.00 317.1h3.0V321.9h-3.0ZM57.00 321.9h3.0V327.4h-3.0ZM64.00 300.3h3.0V318.7h-3.0ZM67.00 318.7h3.0V333.0h-3.0ZM69.00 333.0h3.0V356.1h-3.0ZM74.00 326.6h3.0V355.3h-3.0ZM77.00 355.3h3.0V364.9h-3.0ZM79.00 364.9h3.0V365.7h-3.0ZM84.00 365.7h3.0V366.5h-3.0ZM91.00 358.5h3.0V371.3h-3.0ZM96.00 354.6h3.0V364.9h-3.0ZM104.00 356.9h3.0V368.9h-3.0ZM106.00 368.9h3.0V371.3h-3.0ZM109.00 371.3h3.0V372.9h-3.0ZM116.00 351.4h3.0V368.9h-3.0ZM121.00 364.9h3.0V367.3h-3.0ZM124.00 367.3h3.0V405.6h-3.0ZM126.00 405.6h3.0V427.9h-3.0ZM129.00 427.9h3.0V463.8h-3.0ZM133.00 459.8h3.0V463.0h-3.0ZM141.00 383.3h3.0V447.8h-3.0ZM148.00 412.8h3.0V418.3h-3.0ZM151.00 418.3h3.0V443.0h-3.0ZM153.00 443.0h3.0V447.8h-3.0ZM156.00 447.8h3.0V491.7h-3.0ZM158.00 491.7h3.0V508.4h-3.0ZM166.00 467.8h3.0V488.5h-3.0ZM173.00 462.2h3.0V476.5h-3.0ZM178.00 465.4h3.0V475.7h-3.0ZM183.00 443.0h3.0V463.8h-3.0ZM185.00 463.8h3.0V464.6h-3.0ZM188.00 464.6h3.0V467.0h-3.0ZM195.00 437.5h3.0V438.3h-3.0ZM198.00 438.3h3.0V442.2h-3.0ZM203.00 439.9h3.0V462.2h-3.0ZM205.00 462.2h3.0V476.5h-3.0ZM208.00 476.5h3.0V478.1h-3.0ZM215.00 455.8h3.0V477.3h-3.0ZM222.00 466.2h3.0V469.4h-3.0ZM225.00 469.4h3.0V510.0h-3.0ZM230.00 504.4h3.0V526.8h-3.0ZM235.00 476.5h3.0V500.4h-3.0ZM242.00 455.0h3.0V467.8h-3.0ZM247.00 460.6h3.0V468.6h-3.0ZM255.00 458.2h3.0V462.2h-3.0ZM274.00 380.1h3.0V380.9h-3.0ZM277.00 380.9h3.0V387.2h-3.0ZM282.00 377.7h3.0V383.3h-3.0ZM284.00 383.3h3.0V384.1h-3.0ZM292.00 362.5h3.0V370.5h-3.0ZM294.00 370.5h3.0V383.3h-3.0ZM306.00 311.5h3.0V313.9h-3.0ZM311.00 299.5h3.0V305.1h-3.0ZM314.00 305.1h3.0V315.5h-3.0ZM319.00 305.1h3.0V309.9h-3.0ZM324.00 307.5h3.0V309.9h-3.0ZM326.00 309.9h3.0V312.3h-3.0ZM331.00 286.0h3.0V293.2h-3.0ZM341.00 244.5h3.0V279.6h-3.0ZM351.00 262.9h3.0V266.1h-3.0ZM353.00 266.1h3.0V275.6h-3.0ZM356.00 275.6h3.0V293.2h-3.0ZM358.00 293.2h3.0V305.9h-3.0ZM368.00 290.8h3.0V294.8h-3.0ZM371.00 294.8h3.0V300.3h-3.0ZM373.00 300.3h3.0V325.9h-3.0ZM388.00 255.7h3.0V268.4h-3.0ZM391.00 268.4h3.0V292.4h-3.0ZM395.00 289.2h3.0V294.8h-3.0ZM403.00 283.6h3.0V301.1h-3.0ZM408.00 298.7h3.0V300.3h-3.0ZM410.00 300.3h3.0V311.5h-3.0ZM413.00 311.5h3.0V321.1h-3.0ZM415.00 321.1h3.0V329.8h-3.0ZM425.00 279.6h3.0V282.0h-3.0ZM435.00 270.8h3.0V281.2h-3.0ZM438.00 281.2h3.0V292.4h-3.0ZM445.00 261.3h3.0V274.0h-3.0ZM452.00 264.5h3.0V271.6h-3.0ZM465.00 198.3h3.0V199.1h-3.0ZM472.00 180.0h3.0V195.9h-3.0ZM480.00 183.9h3.0V194.3h-3.0ZM482.00 194.3h3.0V195.1h-3.0ZM484.00 195.1h3.0V199.9h-3.0ZM492.00 178.4h3.0V187.9h-3.0ZM494.00 187.9h3.0V191.1h-3.0ZM497.00 191.1h3.0V197.5h-3.0ZM504.00 183.1h3.0V194.3h-3.0ZM507.00 194.3h3.0V195.1h-3.0ZM509.00 195.1h3.0V195.9h-3.0ZM512.00 195.9h3.0V211.8h-3.0ZM514.00 211.8h3.0V231.8h-3.0ZM517.00 231.8h3.0V238.2h-3.0ZM524.00 217.4h3.0V225.4h-3.0ZM531.00 198.3h3.0V204.7h-3.0ZM534.00 204.7h3.0V206.3h-3.0ZM539.00 183.9h3.0V188.7h-3.0ZM546.00 152.1h3.0V191.9h-3.0ZM549.00 191.9h3.0V199.9h-3.0ZM556.00 199.1h3.0V208.7h-3.0ZM559.00 208.7h3.0V235.0h-3.0ZM564.00 223.8h3.0V238.2h-3.0ZM569.00 203.1h3.0V215.0h-3.0ZM571.00 215.0h3.0V230.2h-3.0ZM573.00 230.2h3.0V257.3h-3.0ZM578.00 243.7h3.0V248.5h-3.0ZM583.00 237.4h3.0V270.8h-3.0ZM588.00 267.7h3.0V272.4h-3.0ZM598.00 244.5h3.0V252.5h-3.0ZM603.00 252.5h3.0V256.5h-3.0ZM611.00 241.3h3.0V246.1h-3.0ZM620.00 209.5h3.0V211.0h-3.0ZM623.00 211.0h3.0V215.8h-3.0ZM630.00 203.9h3.0V206.3h-3.0ZM635.00 201.5h3.0V212.6h-3.0ZM640.00 212.6h3.0V215.8h-3.0ZM643.00 215.8h3.0V236.6h-3.0ZM645.00 236.6h3.0V242.1h-3.0ZM650.00 231.8h3.0V266.1h-3.0ZM662.00 223.0h3.0V226.2h-3.0ZM680.00 140.9h3.0V167.2h-3.0ZM685.00 152.1h3.0V164.8h-3.0ZM687.00 164.8h3.0V234.2h-3.0ZM690.00 234.2h3.0V251.7h-3.0ZM697.00 216.6h3.0V234.2h-3.0ZM700.00 234.2h3.0V251.7h-3.0ZM702.00 251.7h3.0V272.4h-3.0ZM704.00 272.4h3.0V286.8h-3.0ZM714.00 254.1h3.0V270.8h-3.0ZM717.00 270.8h3.0V277.2h-3.0ZM729.00 222.2h3.0V225.4h-3.0ZM732.00 225.4h3.0V235.0h-3.0ZM734.00 235.0h3.0V258.1h-3.0ZM737.00 258.1h3.0V271.6h-3.0ZM747.00 254.1h3.0V286.0h-3.0ZM749.00 286.0h3.0V325.9h-3.0ZM754.00 306.7h3.0V327.4h-3.0ZM759.00 311.5h3.0V319.5h-3.0ZM766.00 290.0h3.0V313.9h-3.0ZM769.00 313.9h3.0V325.1h-3.0ZM771.00 325.1h3.0V340.2h-3.0ZM774.00 340.2h3.0V381.7h-3.0ZM779.00 372.9h3.0V384.1h-3.0ZM781.00 384.1h3.0V400.8h-3.0ZM786.00 394.3h3.0V406.1h-3.0Z" fill="#f23645" fill-opacity="0.86"/>
</g></g>
<path d="M8.2 406.1H869" stroke="#f23645" stroke-width="1" stroke-dasharray="1 1.6" fill="none" opacity="0.75"/>
<text x="925.8" y="54.7" font-size="10.4" fill="#1e2026" textLength="57.6" lengthAdjust="spacingAndGlyphs">136,000.00</text>
<text x="925.8" y="86.6" font-size="10.4" fill="#1e2026" textLength="57.6" lengthAdjust="spacingAndGlyphs">132,000.00</text>
<text x="925.8" y="118.5" font-size="10.4" fill="#1e2026" textLength="57.6" lengthAdjust="spacingAndGlyphs">128,000.00</text>
<text x="925.8" y="150.4" font-size="10.4" fill="#1e2026" textLength="57.6" lengthAdjust="spacingAndGlyphs">124,000.00</text>
<text x="925.8" y="182.3" font-size="10.4" fill="#1e2026" textLength="57.6" lengthAdjust="spacingAndGlyphs">120,000.00</text>
<text x="925.8" y="214.2" font-size="10.4" fill="#1e2026" textLength="57.6" lengthAdjust="spacingAndGlyphs">116,000.00</text>
<text x="925.8" y="246.0" font-size="10.4" fill="#1e2026" textLength="57.6" lengthAdjust="spacingAndGlyphs">112,000.00</text>
<text x="925.8" y="277.9" font-size="10.4" fill="#1e2026" textLength="57.6" lengthAdjust="spacingAndGlyphs">108,000.00</text>
<text x="925.8" y="309.8" font-size="10.4" fill="#1e2026" textLength="57.6" lengthAdjust="spacingAndGlyphs">104,000.00</text>
<text x="925.8" y="341.7" font-size="10.4" fill="#1e2026" textLength="57.6" lengthAdjust="spacingAndGlyphs">100,000.00</text>
<text x="925.3" y="373.6" font-size="10.4" fill="#1e2026" textLength="51.8" lengthAdjust="spacingAndGlyphs">96,000.00</text>
<text x="925.3" y="405.5" font-size="10.4" fill="#1e2026" textLength="51.8" lengthAdjust="spacingAndGlyphs">92,000.00</text>
<text x="925.3" y="437.4" font-size="10.4" fill="#1e2026" textLength="51.8" lengthAdjust="spacingAndGlyphs">88,000.00</text>
<text x="925.3" y="469.3" font-size="10.4" fill="#1e2026" textLength="51.8" lengthAdjust="spacingAndGlyphs">84,000.00</text>
<text x="925.3" y="501.2" font-size="10.4" fill="#1e2026" textLength="51.8" lengthAdjust="spacingAndGlyphs">80,000.00</text>
<text x="925.3" y="533.0" font-size="10.4" fill="#1e2026" textLength="51.8" lengthAdjust="spacingAndGlyphs">76,000.00</text>
<text x="925.3" y="564.9" font-size="10.4" fill="#1e2026" textLength="51.8" lengthAdjust="spacingAndGlyphs">72,000.00</text>
<text x="925.3" y="596.8" font-size="10.4" fill="#1e2026" textLength="51.8" lengthAdjust="spacingAndGlyphs">68,000.00</text>
<text x="68.2" y="642.5" font-size="11" fill="#1e2026" text-anchor="middle">Feb</text>
<text x="137.4" y="642.5" font-size="11" fill="#1e2026" text-anchor="middle">Mar</text>
<text x="214.0" y="642.5" font-size="11" fill="#1e2026" text-anchor="middle">Apr</text>
<text x="288.2" y="642.5" font-size="11" fill="#1e2026" text-anchor="middle">May</text>
<text x="364.8" y="642.5" font-size="11" fill="#1e2026" text-anchor="middle">Jun</text>
<text x="439.0" y="642.5" font-size="11" fill="#1e2026" text-anchor="middle">Jul</text>
<text x="515.6" y="642.5" font-size="11" fill="#1e2026" text-anchor="middle">Aug</text>
<text x="592.3" y="642.5" font-size="11" fill="#1e2026" text-anchor="middle">Sep</text>
<text x="666.4" y="642.5" font-size="11" fill="#1e2026" text-anchor="middle">Oct</text>
<text x="743.1" y="642.5" font-size="11" fill="#1e2026" text-anchor="middle">Nov</text>
<text x="817.2" y="642.5" font-size="11" fill="#1e2026" text-anchor="middle">Dec</text>
<rect x="919.0" y="201.2" width="68.7" height="14.4" rx="1.5" fill="#4caf50"/>
<text x="927" y="212.4" font-size="10.4" fill="#fff" textLength="56" lengthAdjust="spacingAndGlyphs">116,289.52</text>
<rect x="919.0" y="255.4" width="68.7" height="14.4" rx="1.5" fill="#1ce5f5"/>
<text x="927" y="266.6" font-size="10.4" fill="#0e3a40" textLength="56" lengthAdjust="spacingAndGlyphs">108,658.20</text>
<rect x="919.0" y="269.5" width="68.7" height="14.4" rx="1.5" fill="#0a0af0"/>
<text x="927" y="280.7" font-size="10.4" fill="#fff" textLength="56" lengthAdjust="spacingAndGlyphs">107,012.83</text>
<rect x="919.0" y="284.5" width="68.7" height="14.4" rx="1.5" fill="#f7820e"/>
<text x="927" y="295.7" font-size="10.4" fill="#ffe9b8" textLength="56" lengthAdjust="spacingAndGlyphs">105,858.71</text>
<rect x="919.0" y="299.9" width="68.7" height="14.4" rx="1.5" fill="#ee3a50"/>
<text x="927" y="311.1" font-size="10.4" fill="#fff" textLength="56" lengthAdjust="spacingAndGlyphs">103,900.06</text>
<rect x="919.0" y="330.6" width="68.7" height="14.4" rx="1.5" fill="#f50a0a"/>
<text x="927" y="341.8" font-size="10.4" fill="#fff" textLength="56" lengthAdjust="spacingAndGlyphs">100,039.34</text>
<rect x="919" y="400.3" width="62.6" height="25.3" rx="2" fill="#ee3a50"/>
<rect x="869.5" y="400.3" width="48" height="13.5" rx="2" fill="#ee3a50"/>
<text x="874" y="411" font-size="10.4" fill="#fff" textLength="39.5" lengthAdjust="spacingAndGlyphs">BTCUSD</text>
<text x="926" y="411" font-size="10.4" fill="#fff" textLength="50" lengthAdjust="spacingAndGlyphs">91,438.07</text>
<text x="927" y="422.5" font-size="10.4" fill="#ffd9dd" textLength="42.5" lengthAdjust="spacingAndGlyphs">12:10:48</text>
<text x="9" y="17.3" font-size="10.3" fill="#1e2026" stroke="#1e2026" stroke-width="0.1" textLength="349.5" lengthAdjust="spacingAndGlyphs">ChartAnalysis_4 created with TradingView.com, Nov 19, 2025 11:49 UTC</text>
<text x="15.5" y="40" font-size="10.0" fill="#1e2026" stroke="#1e2026" stroke-width="0.15" textLength="167.0" lengthAdjust="spacingAndGlyphs">Bitcoin / U.S. Dollar · 1D · Coinbase</text>
<text x="189" y="40" font-size="10.0" fill="#1e2026" stroke="#1e2026" stroke-width="0.15" textLength="7.5" lengthAdjust="spacingAndGlyphs">O</text>
<text x="196.7" y="40" font-size="10.0" fill="#dd4c5e" stroke="#dd4c5e" stroke-width="0.15" textLength="48.3" lengthAdjust="spacingAndGlyphs">92,914.45</text>
<text x="251.5" y="40" font-size="10.0" fill="#1e2026" stroke="#1e2026" stroke-width="0.15" textLength="7.5" lengthAdjust="spacingAndGlyphs">H</text>
<text x="259.3" y="40" font-size="10.0" fill="#dd4c5e" stroke="#dd4c5e" stroke-width="0.15" textLength="49.2" lengthAdjust="spacingAndGlyphs">92,948.00</text>
<text x="314.5" y="40" font-size="10.0" fill="#1e2026" stroke="#1e2026" stroke-width="0.15" textLength="5.9" lengthAdjust="spacingAndGlyphs">L</text>
<text x="320.6" y="40" font-size="10.0" fill="#dd4c5e" stroke="#dd4c5e" stroke-width="0.15" textLength="49.4" lengthAdjust="spacingAndGlyphs">89,955.55</text>
<text x="376" y="40" font-size="10.0" fill="#1e2026" stroke="#1e2026" stroke-width="0.15" textLength="7.6" lengthAdjust="spacingAndGlyphs">C</text>
<text x="383.8" y="40" font-size="10.0" fill="#dd4c5e" stroke="#dd4c5e" stroke-width="0.15" textLength="46.2" lengthAdjust="spacingAndGlyphs">91,438.07</text>
<text x="437.5" y="40" font-size="10.0" fill="#dd4c5e" stroke="#dd4c5e" stroke-width="0.15" textLength="93.5" lengthAdjust="spacingAndGlyphs">−1,476.39 (−1.59%)</text>
<text x="15.5" y="54.8" font-size="10.0" fill="#1e2026" stroke="#1e2026" stroke-width="0.15" textLength="96.0" lengthAdjust="spacingAndGlyphs">EMA 20/50/100/200</text>
<text x="118" y="54.8" font-size="10.0" fill="#e32636" stroke="#e32636" stroke-width="0.15" textLength="53.5" lengthAdjust="spacingAndGlyphs">100,039.34</text>
<text x="178.5" y="54.8" font-size="10.0" fill="#f5a142" stroke="#f5a142" stroke-width="0.15" textLength="52.0" lengthAdjust="spacingAndGlyphs">105,858.71</text>
<text x="236.5" y="54.8" font-size="10.0" fill="#3fdcec" stroke="#3fdcec" stroke-width="0.15" textLength="53.5" lengthAdjust="spacingAndGlyphs">108,658.20</text>
<text x="297" y="54.8" font-size="10.0" fill="#2a2acb" stroke="#2a2acb" stroke-width="0.15" textLength="50.5" lengthAdjust="spacingAndGlyphs">107,012.83</text>
<text x="15.5" y="69.4" font-size="10.0" fill="#1e2026" stroke="#1e2026" stroke-width="0.15" textLength="88.0" lengthAdjust="spacingAndGlyphs">Supertrend (10, 3)</text>
<text x="109" y="69.4" font-size="8.5" fill="#444">∅</text>
<text x="122.5" y="69.4" font-size="10.0" fill="#dd4c5e" stroke="#dd4c5e" stroke-width="0.15" textLength="54.0" lengthAdjust="spacingAndGlyphs">103,900.06</text>
<g transform="translate(787.8,594)"><circle r="8.6" fill="#fff" stroke="#5f2da8" stroke-width="1.25"/><circle cx="6.1" cy="-6.4" r="3.4" fill="#fff"/><path d="M2.1 -3.9L-2.7 0.8H0L-2.6 4.3L2.5 -0.5H-0.2Z" fill="#7a2fe0" stroke="#7a2fe0" stroke-width="0.5" stroke-linejoin="round"/><circle cx="6.1" cy="-6.4" r="2" fill="#f23645"/></g>
<g transform="translate(788.2,614.8)"><circle cx="1.7" r="9.1" fill="#fff" stroke="#e3364a" stroke-width="1.1"/><circle r="9.1" fill="#fff" stroke="#e3364a" stroke-width="1.3"/><clipPath id="fc"><circle r="7.3"/></clipPath><g clip-path="url(#fc)"><rect x="-8" y="-8" width="16" height="16" fill="#fff"/><path d="M1 -3.6H8M1 -0.6H8" stroke="#e3364a" stroke-width="1.5"/><path d="M-8 5.2H8" stroke="#e3364a" stroke-width="3"/><rect x="-8" y="-8" width="9.2" height="8.6" fill="#3f7fe0"/><path d="M-6 -5.5H1M-6 -3.5H1M-6 -1.5H1" stroke="#cfe4ff" stroke-width="0.8" stroke-dasharray="0.9 1.1"/></g></g>
<g transform="translate(10.4,666.1) scale(0.704)" fill="#131722"><path d="M14 22H7V11H0V4h14v18zM28 22h-8l7.5-18h8L28 22z"/><circle cx="20" cy="8" r="4"/></g>
<text x="41.6" y="680.7" font-size="16.6" font-weight="bold" fill="#131722" textLength="103" lengthAdjust="spacingAndGlyphs">TradingView</text>
<rect x="882" y="630" width="118" height="71" fill="#fff"/>
<polygon points="887.4,632.4 903.4,632.4 903.4,684.6 922.6,684.6 922.6,698.2 887.4,698.2" fill="#1f80cf"/>
<polygon points="887.4,632.4 907.6,698.2 887.4,698.2" fill="url(#lg)"/>
<text x="928.6" y="672.3" font-size="30" font-weight="bold" fill="#1f80cf" font-family='"Liberation Sans", "Noto Sans CJK SC", sans-serif' textLength="65" lengthAdjust="spacing">链懂</text>
<text x="930.2" y="687.1" font-size="6.1" font-weight="bold" fill="#1f80cf" textLength="65.2" lengthAdjust="spacing">NEATDOWN.COM</text>
</svg>
</body></html>
